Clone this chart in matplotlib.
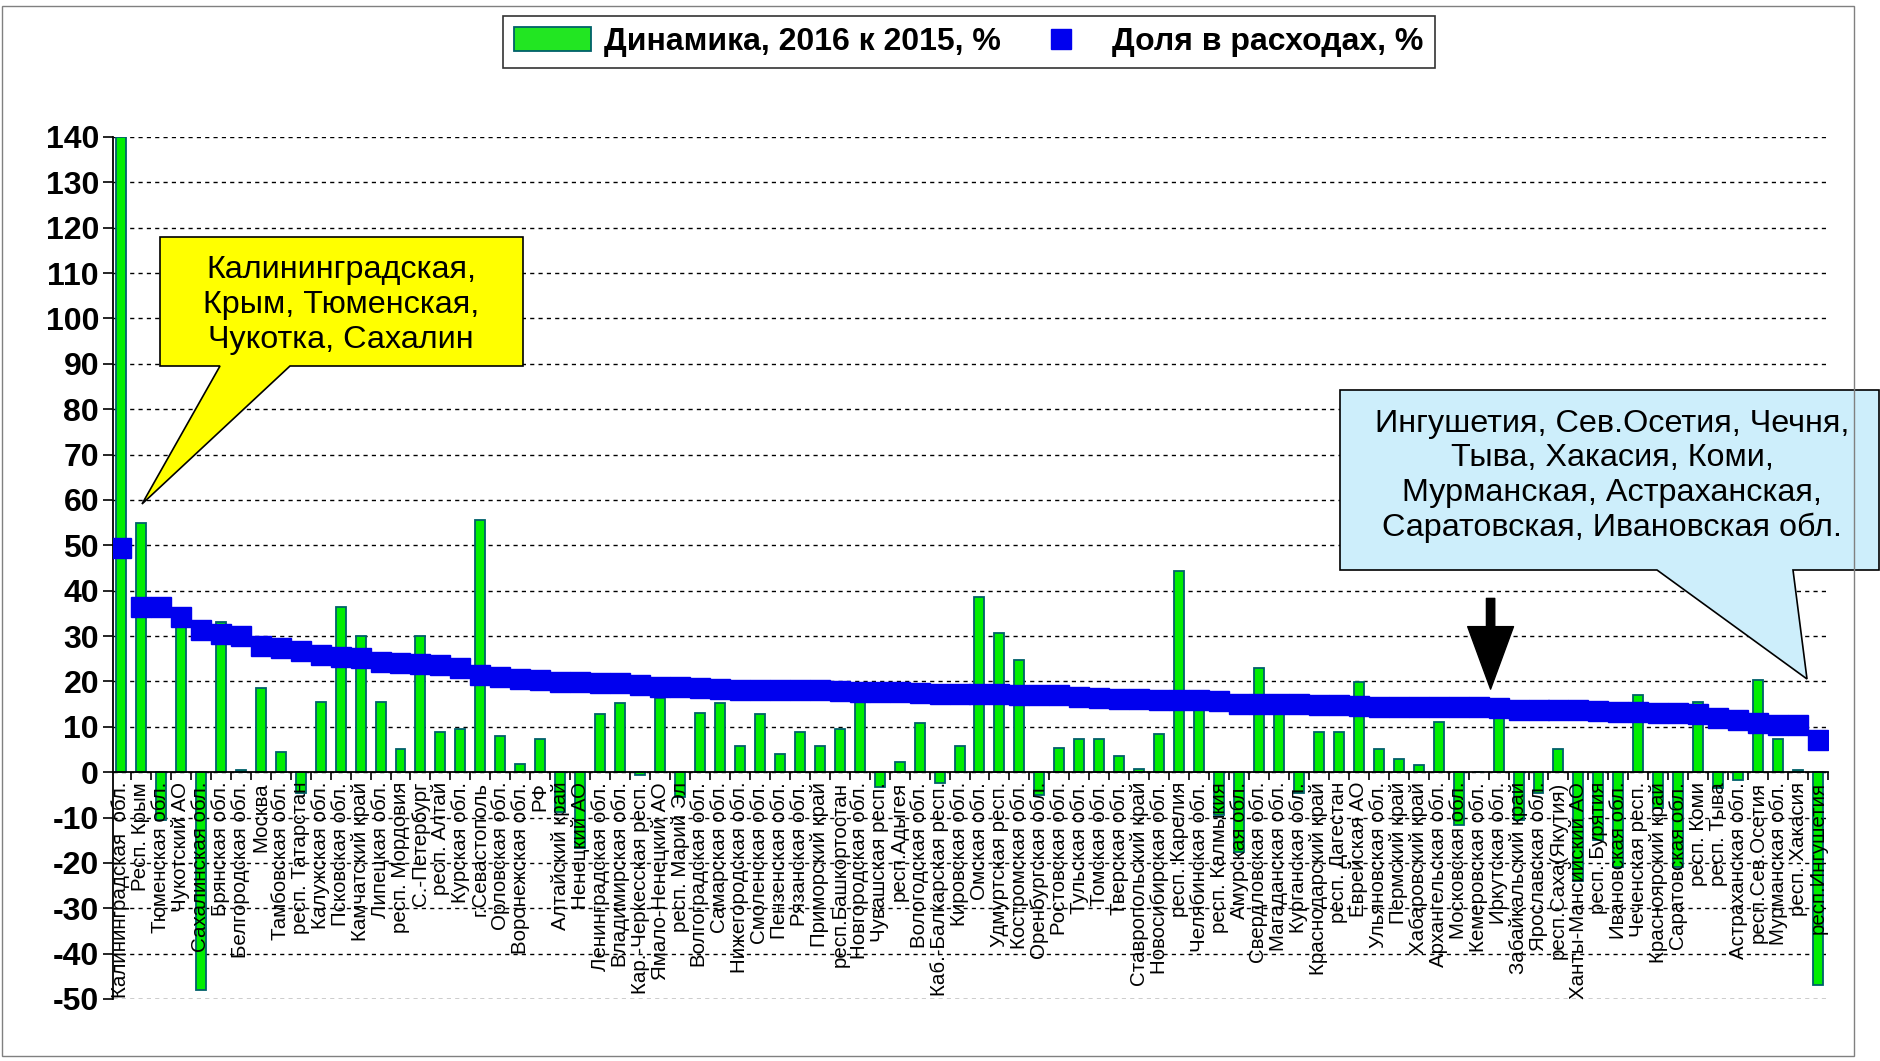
import matplotlib
matplotlib.use("Agg")
import matplotlib.pyplot as plt
from matplotlib.patches import Patch, Polygon, Rectangle
from matplotlib.lines import Line2D
import numpy as np

plt.rcParams["font.family"] = ["Liberation Sans", "DejaVu Sans"]
plt.rcParams["axes.unicode_minus"] = False

# регионы, отсортированные по доле в расходах
regions = [
    "Калининградская  обл.", "Респ. Крым", "Тюменская обл.", "Чукотский АО",
    "Сахалинская обл.", "Брянская обл.", "Белгородская обл.", "Москва",
    "Тамбовская обл.", "респ. Татарстан", "Калужская обл.", "Псковская обл.",
    "Камчатский край", "Липецкая обл.", "респ. Мордовия", "С.-Петербург",
    "респ. Алтай", "Курская обл.", "г.Севастополь", "Орловская обл.",
    "Воронежская обл.", "РФ", "Алтайский край", "Ненецкий АО",
    "Ленинградская обл.", "Владимирская обл.", "Кар.-Черкесская респ.",
    "Ямало-Ненецкий АО", "респ. Марий Эл", "Волгоградская обл.",
    "Самарская обл.", "Нижегородская обл.", "Смоленская обл.", "Пензенская обл.",
    "Рязанская обл.", "Приморский край", "респ.Башкортостан", "Новгородская обл.",
    "Чувашская респ.", "респ.Адыгея", "Вологодская обл.", "Каб.-Балкарская респ.",
    "Кировская обл.", "Омская обл.", "Удмуртская респ.", "Костромская обл.",
    "Оренбургская обл.", "Ростовская обл.", "Тульская обл.", "Томская обл.",
    "Тверская обл.", "Ставропольский край", "Новосибирская обл.", "респ. Карелия",
    "Челябинская обл.", "респ. Калмыкия", "Амурская обл.", "Свердловская обл.",
    "Магаданская обл.", "Курганская обл.", "Краснодарский край", "респ. Дагестан",
    "Еврейская АО", "Ульяновская обл.", "Пермский край", "Хабаровский край",
    "Архангельская обл.", "Московская обл.", "Кемеровская обл.", "Иркутская обл.",
    "Забайкальский край", "Ярославская обл.", "респ.Саха(Якутия)",
    "Ханты-Мансийский АО", "респ. Бурятия", "Ивановская обл.", "Чеченская респ.",
    "Красноярский край", "Саратовская обл.", "респ. Коми", "респ. Тыва",
    "Астраханская обл.", "респ.Сев.Осетия", "Мурманская обл.", "респ. Хакасия",
    "респ.Ингушетия",
]

# Динамика, 2016 к 2015, %
dynamics = [
    140, 55, -10.5, 33, -48, 33, 0.5, 18.5, 4.4, -4.7, 15.5, 36.5,
    30, 15.5, 5, 30, 8.8, 9.5, 55.5, 7.9, 1.8, 7.4, -8.8, -16.8,
    12.8, 15.2, -0.6, 16.4, -5.5, 13.1, 15.2, 5.8, 12.8, 4, 8.8, 5.8,
    9.5, 17, -3.3, 2.3, 10.8, -2.3, 5.8, 38.5, 30.7, 24.8, -5, 5.3,
    7.4, 7.4, 3.5, 0.6, 8.4, 44.4, 15, -9.5, -17.5, 23, 13.5, -4.7,
    8.8, 8.8, 19.9, 5, 2.8, 1.6, 11.1, -11.7, 0, 15, -10.6, -4.7,
    5, -24, -15, -21, 16.9, -8, -21, 15.5, -3.6, -1.8, 20.4, 7.4,
    0.5, -47,
]

# Доля в расходах, %
share = [
    49.5, 36.3, 36.3, 34.3, 31.4, 30.5, 30, 27.7, 27.4, 26.7, 25.9, 25.3,
    25.2, 24.2, 24, 23.8, 23.6, 23, 21.5, 20.9, 20.5, 20.3, 19.9, 19.8,
    19.7, 19.6, 19.2, 18.8, 18.7, 18.6, 18.3, 18.2, 18.2, 18.1, 18.1, 18.1,
    17.8, 17.7, 17.6, 17.6, 17.5, 17.2, 17.2, 17.2, 17.2, 17.1, 17, 17,
    16.5, 16.4, 16.2, 16.1, 16, 15.8, 15.8, 15.6, 15, 15, 15, 15,
    14.7, 14.7, 14.6, 14.4, 14.4, 14.4, 14.3, 14.3, 14.3, 14.2, 13.8, 13.8,
    13.8, 13.7, 13.5, 13.3, 13.2, 13.1, 13, 12.8, 12, 11.5, 10.9, 10.5,
    10.3, 7,
]

W, H = 1881, 1061


def px(xp, yp):
    # пиксели картинки -> доли фигуры
    return (xp / W, 1 - yp / H)


fig = plt.figure(figsize=(W / 100, H / 100), dpi=100)
ax = fig.add_axes([113 / W, 1 - 999 / H, (1828 - 113) / W, (999 - 137) / H])

x = np.arange(len(regions))
ax.bar(x, dynamics, width=0.5, color="#00ee00", edgecolor="#00606a",
       linewidth=1.3, zorder=1)
ax.plot(x, share, linestyle="none", marker="s", markersize=14.5,
        color="#0000ee", zorder=3)

ax.set_ylim(-50, 140)
ax.set_xlim(-0.4, len(regions) - 0.5)
ax.set_yticks(np.arange(-50, 141, 10))
for t in ax.get_yticks():
    ax.axhline(t, color="black", linestyle=(0, (3, 3)), linewidth=1, zorder=0.5)

ax.spines["bottom"].set_position(("data", 0))
ax.spines["top"].set_visible(False)
ax.spines["right"].set_visible(False)
ax.spines["left"].set_linewidth(1.3)
ax.spines["bottom"].set_linewidth(1.3)

ax.set_xticks(x)
ax.set_xticklabels(regions, rotation=90, fontsize=14.8)
ax.set_xticks(x + 0.5, minor=True)
ax.tick_params(axis="x", which="major", length=0, pad=7)
ax.tick_params(axis="x", which="minor", length=6, width=1.2, direction="out")
ax.tick_params(axis="y", length=7, width=1.2, labelsize=23, pad=3)
for lbl in ax.get_yticklabels():
    lbl.set_fontweight("bold")

# легенда сверху
handles = [
    Patch(facecolor="#22e622", edgecolor="#00606a", linewidth=1.3),
    Line2D([], [], linestyle="none", marker="s", markersize=14.5, color="#0000ee"),
]
leg = fig.legend(handles, ["Динамика, 2016 к 2015, %", "Доля в расходах, %"],
                 loc="center", bbox_to_anchor=px(969, 42), ncol=2,
                 prop={"size": 23, "weight": "bold"}, fancybox=False,
                 edgecolor="black", handlelength=2.4, handleheight=0.8,
                 handletextpad=0.4, columnspacing=0.7, borderpad=0.35)
leg.get_frame().set_linewidth(1.2)

# выноски
yellow = [px(160, 237), px(523, 237), px(523, 366), px(290, 366),
          px(142, 504), px(220, 366), px(160, 366)]
fig.add_artist(Polygon(yellow, closed=True, transform=fig.transFigure,
                       facecolor="#ffff00", edgecolor="black", linewidth=1.2))
fig.text(*px(341, 305), "Калининградская,\nКрым, Тюменская,\nЧукотка, Сахалин",
         ha="center", va="center", fontsize=23.3, linespacing=1.22)

blue = [px(1340, 390), px(1879, 390), px(1879, 570), px(1793, 570),
        px(1807, 679), px(1657, 570), px(1340, 570)]
fig.add_artist(Polygon(blue, closed=True, transform=fig.transFigure,
                       facecolor="#cdeefb", edgecolor="black", linewidth=1.2))
fig.text(*px(1612, 476),
         "Ингушетия, Сев.Осетия, Чечня,\nТыва, Хакасия, Коми,\n"
         "Мурманская, Астраханская,\nСаратовская, Ивановская обл.",
         ha="center", va="center", fontsize=23.3, linespacing=1.2)

# стрелка на Иркутскую
ax.annotate("", xy=(68.6, 18.3), xytext=(68.6, 38.3),
            arrowprops=dict(arrowstyle="simple,head_length=45,head_width=33,tail_width=6",
                            mutation_scale=1, color="black", shrinkA=0, shrinkB=0),
            zorder=4)

# рамка
fig.add_artist(Rectangle(px(2, 1056), 1852 / W, 1050 / H, transform=fig.transFigure,
                         fill=False, edgecolor="#808080", linewidth=1))

fig.savefig("out.png", dpi=100)
